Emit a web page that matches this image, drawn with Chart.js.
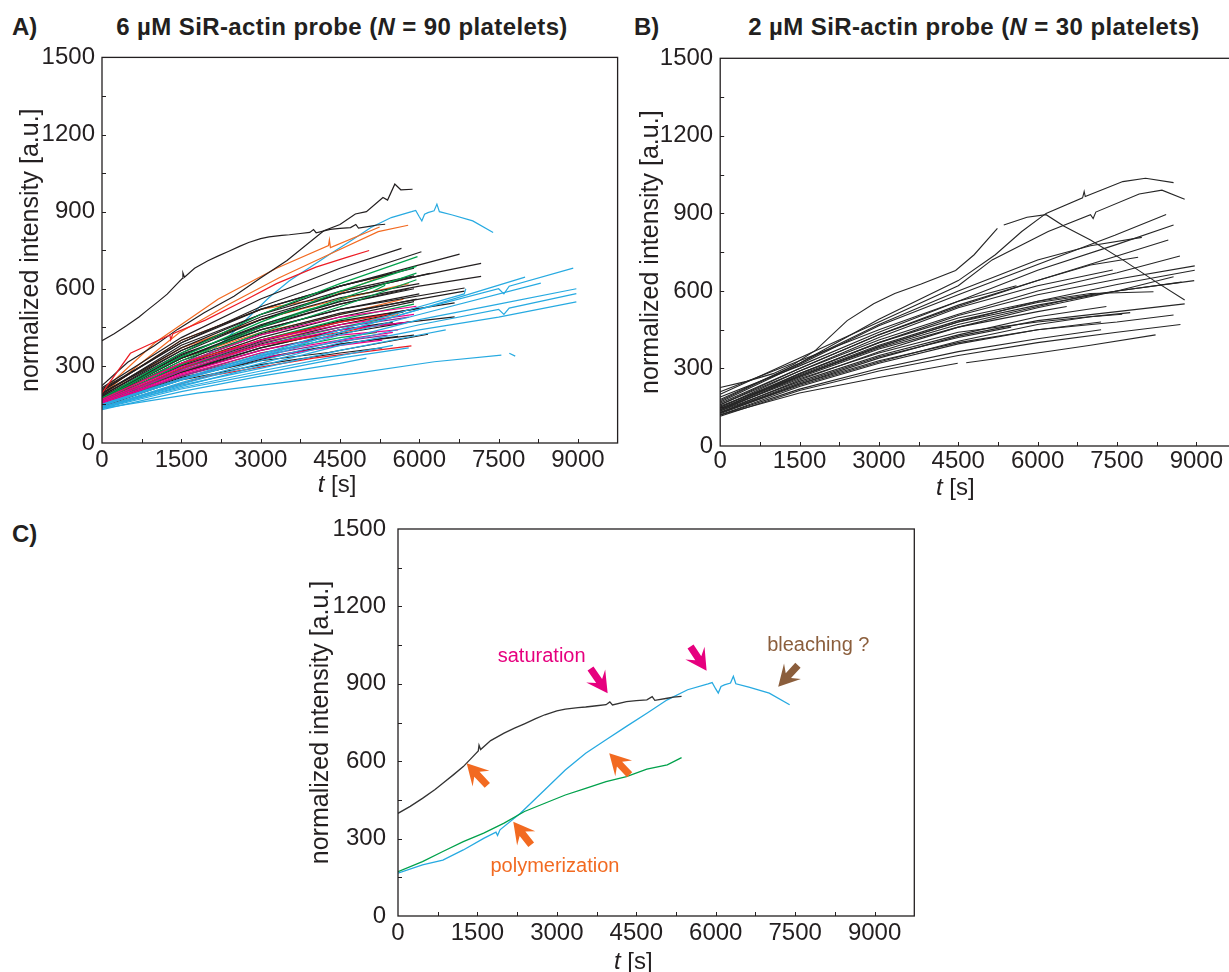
<!DOCTYPE html>
<html>
<head>
<meta charset="utf-8">
<script src="https://cdn.jsdelivr.net/npm/chart.js@4.4.1/dist/chart.umd.min.js"></script>
<style>
  html, body { margin: 0; padding: 0; background: #fff; overflow: hidden; width: 1229px; height: 972px; }
  body { position: relative; font-family: "Liberation Sans", Arial, sans-serif; color: #231f20; }
  .panel { position: absolute; }
  .lbl { position: absolute; font-weight: bold; font-size: 24px; line-height: 24px; white-space: nowrap; }
  .ttl { position: absolute; font-weight: bold; font-size: 24px; line-height: 24px; white-space: nowrap; letter-spacing: 0.4px; transform: translateX(-50%); }
</style>
</head>
<body>
<div class="lbl" style="left:12px;top:15px">A)</div>
<div class="ttl" style="left:342px;top:15px">6 µM SiR-actin probe (<i>N</i> = 90 platelets)</div>
<div class="lbl" style="left:634px;top:15px">B)</div>
<div class="ttl" style="left:974px;top:15px">2 µM SiR-actin probe (<i>N</i> = 30 platelets)</div>
<div class="lbl" style="left:12px;top:522px">C)</div>

<div class="panel" style="left:0px;top:36px;width:640px;height:470px"><canvas id="chartA" width="640" height="470"></canvas></div>
<div class="panel" style="left:620px;top:36px;width:640px;height:470px"><canvas id="chartB" width="640" height="470"></canvas></div>
<div class="panel" style="left:290px;top:500px;width:640px;height:472px"><canvas id="chartC" width="640" height="472"></canvas></div>

<script>
// 軸の目盛り
const xTicks = [0, 1500, 3000, 4500, 6000, 7500, 9000];
const yTicks = [0, 300, 600, 900, 1200, 1500];

// C) の3本 (A にも含まれる)
const cBlack = [[0,398],[230,425],[462,456],[700,490],[847,515],[1050,548],[1233,579],[1400,615],[1516,640],[1530,662],[1560,645],[1750,680],[2003,709],[2200,728],[2388,745],[2600,765],[2773,780],[3000,795],[3159,802],[3400,808],[3544,810],[3750,815],[3929,819],[4000,830],[4050,818],[4314,831],[4500,835],[4700,838],[4800,850],[4850,836],[5085,844],[5200,848],[5355,851]];
const cBlue = [[0,166],[462,198],[847,217],[1233,256],[1618,301],[1850,325],[1880,312],[1926,334],[2311,398],[2773,489],[3159,566],[3544,631],[3929,683],[4314,735],[4700,786],[5085,838],[5470,877],[5855,900],[5932,905],[6000,880],[6048,864],[6100,890],[6163,896],[6279,903],[6333,929],[6380,900],[6626,887],[7011,864],[7396,819]];
const cGreen = [[0,172],[462,211],[847,250],[1233,288],[1618,321],[2003,360],[2388,405],[2773,437],[3159,469],[3544,495],[3929,521],[4314,540],[4700,569],[5085,586],[5355,614]];

// A) 6 µM
const aBlack = [
  [[0,223],[487,314],[990,378],[1428,442],[1931,507],[2496,571],[2998,642],[3499,710],[4194,826],[4500,850],[4791,891],[5000,900],[5313,955],[5400,945],[5537,1007],[5650,985],[5873,987]],
  [[0,215],[1500,410],[3000,560],[4500,680],[5663,757]],
  [[0,205],[1500,390],[3000,530],[4500,640],[6040,744]],
  [[0,195],[1500,370],[3000,500],[4500,610],[6762,735]],
  [[0,185],[1500,350],[3000,480],[4500,580],[6000,650],[7169,699]],
  [[0,180],[1500,340],[3000,460],[4500,550],[6000,610],[7169,648]],
  [[0,175],[1500,330],[3000,440],[4500,520],[6856,603]],
  [[0,170],[1500,320],[3000,425],[4500,505],[6856,591]],
  [[0,165],[1500,300],[3000,400],[4500,475],[6668,545]],
  [[0,160],[1500,280],[3000,370],[4500,440],[6668,491]],
  [[0,150],[1500,255],[3000,320],[4283,352],[6165,423]],
  [[0,200],[1500,400],[3000,520],[4500,610],[5900,680]],
  [[0,190],[1500,380],[3000,500],[4500,590],[5900,650]],
  [[0,185],[1500,360],[3000,480],[4500,565],[6000,620]],
  [[0,175],[1500,345],[3000,455],[4500,540],[5800,600]],
  [[0,170],[1500,330],[3000,440],[4500,520],[6000,580]],
  [[0,160],[1500,305],[3000,410],[4500,490],[5900,550]],
  [[0,155],[1500,290],[3000,385],[4500,460],[5700,510]],
  [[0,150],[1500,275],[3000,360],[4500,425],[5800,470]],
  [[0,140],[1500,250],[3000,325],[4500,385],[5900,420]],
  [[0,145],[1500,245],[3000,305],[4500,350],[5300,370]],
  [[0,180],[1500,330],[3000,450],[4500,540],[5900,600]],
  [[0,170],[1500,310],[3000,420],[4500,500],[5950,560]],
  [[0,158],[1500,290],[3000,395],[4500,470],[6000,525]],
  [[0,150],[1500,275],[3000,370],[4500,440],[5500,470]],
  [[0,210],[1500,390],[3000,520],[4500,610],[5500,660]],
  [[0,145],[1500,250],[3000,330],[4500,385],[5600,415]],
  [[0,195],[1500,360],[3000,490],[4500,580],[6200,660]]
];
const aOrange = [
  [[0,190],[1460,429],[2400,540],[3342,642],[4283,732],[5223,822],[5789,847]],
  [[0,200],[1000,390],[2200,560],[3300,680],[4283,768],[4300,790],[4320,760],[5250,840]],
  [[0,200],[1500,400],[3000,520],[4283,566],[5223,643],[5500,660]],
  [[0,190],[1500,370],[3000,480],[4500,560],[5800,620]],
  [[0,175],[1500,330],[3000,430],[4500,500],[5700,560]],
  [[0,165],[1500,300],[3000,390],[4500,460],[5600,500]]
];
const aRed = [
  [[0,194],[537,349],[1284,420],[1300,402],[1340,425],[1955,478],[2702,555],[3299,620],[4045,684],[4642,723],[5052,749]],
  [[0,140],[2000,260],[4000,330],[5851,378]],
  [[0,170],[1500,310],[3000,400],[4500,470],[5400,500]],
  [[0,160],[1500,290],[3000,380],[4500,430],[5000,450]]
];
const aGreen = [
  [[0,175],[1500,350],[3000,500],[4500,620],[5966,725]],
  [[0,170],[1500,335],[3000,470],[4500,590],[5946,687]],
  [[0,165],[1500,320],[3000,450],[4500,560],[5946,661]],
  [[0,160],[1500,305],[3000,430],[4500,530],[5946,635]],
  [[0,150],[1500,280],[3000,380],[4500,450],[5500,490]],
  [[0,145],[1500,260],[3000,350],[4500,410],[5200,430]],
  [[0,155],[1500,290],[3000,400],[4500,480],[5900,540]]
];
const aMagenta = [
  [[0,170],[1500,310],[3000,420],[4500,490],[5946,532]],
  [[0,165],[1500,295],[3000,400],[4500,460],[5900,500]],
  [[0,160],[1500,280],[3000,380],[4500,440],[5800,470]],
  [[0,150],[1500,265],[3000,350],[4500,400],[5500,430]],
  [[0,155],[1500,270],[3000,360],[4500,420],[5600,440]],
  [[0,145],[1500,250],[3000,330],[4500,380],[5300,400]]
];
const aPurple = [
  [[0,160],[1500,285],[3000,390],[4500,450],[5800,490]],
  [[0,150],[1500,260],[3000,340],[4500,395],[5400,420]]
];
const aBlue = [
  [[0,135],[1806,194],[3299,232],[4791,271],[6284,316],[7552,342]],
  [[7702,349],[7814,338]],
  [[0,135],[1500,220],[3000,300],[4500,380],[6000,440],[7500,490],[8970,549]],
  [[0,140],[1500,230],[3000,310],[4500,390],[6000,460],[7500,520],[7600,500],[7700,525],[8970,581]],
  [[0,140],[1500,235],[3000,320],[4500,400],[6000,480],[7500,540],[8970,600]],
  [[0,145],[1500,245],[3000,335],[4500,430],[6000,520],[7500,600],[7600,580],[7700,610],[8911,680]],
  [[0,150],[1500,250],[3000,340],[4500,430],[6000,520],[8000,645]],
  [[0,145],[1500,245],[3000,330],[4500,420],[6000,500],[8298,622]],
  [[0,150],[1500,250],[3000,345],[4500,440],[6000,530],[6850,580],[6880,600]],
  [[0,140],[1500,215],[3000,280],[4500,340],[5500,380]],
  [[0,135],[1500,210],[3000,270],[4500,330],[5800,370]],
  [[0,130],[1500,200],[3000,260],[4500,310],[5000,330]],
  [[0,138],[1500,225],[3000,290],[4500,360],[6000,420],[6500,440]]
];

// B) 2 µM
const bTraces = [
  [[0,226],[500,250],[1000,280],[1400,317],[1800,370],[2400,485],[2900,550],[3300,590],[3800,627],[4450,679],[4800,740],[5240,842]],
  [[5360,855],[5800,885],[6160,895],[6500,850],[7000,797],[7610,720],[8230,636],[8780,565]],
  [[0,175],[1500,320],[3000,490],[4500,640],[5200,740],[5700,830],[6160,900],[6850,960],[6880,985],[6900,965],[7610,1023],[8040,1036],[8570,1019]],
  [[0,200],[1500,340],[3000,480],[4500,620],[5140,720],[6200,830],[7000,895],[7050,880],[7100,905],[7920,975],[8350,990],[8780,955]],
  [[0,170],[1500,315],[3000,465],[4500,585],[6200,718],[7460,815],[8430,896]],
  [[0,190],[1500,310],[3000,440],[4500,560],[6000,680],[7500,780],[8570,855]],
  [[0,160],[1500,300],[3000,430],[4500,540],[6000,640],[7500,735],[8470,797]],
  [[0,150],[1500,290],[3000,410],[4500,510],[6000,600],[7500,670],[8690,735]],
  [[0,140],[1500,280],[3000,400],[4500,505],[6000,585],[7500,645],[8970,697]],
  [[0,135],[1500,270],[3000,385],[4500,480],[6000,560],[7500,625],[8970,680]],
  [[0,145],[1500,275],[3000,390],[4500,485],[6000,555],[7500,600],[8720,634]],
  [[0,130],[1500,255],[3000,365],[4500,460],[6000,535],[7500,600],[8570,655]],
  [[0,125],[1500,240],[3000,340],[4500,425],[6000,485],[7500,520],[8780,550]],
  [[0,120],[1500,230],[3000,320],[4500,395],[6000,450],[7500,480],[8570,507]],
  [[0,120],[1500,205],[3000,265],[4490,320]],
  [[4650,322],[6000,360],[7000,390],[8230,430]],
  [[0,180],[1500,320],[3000,470],[4500,600],[6000,720],[7000,775],[7970,807]],
  [[0,160],[1500,290],[3000,420],[4500,535],[6000,620],[7420,681]],
  [[0,150],[1500,280],[3000,400],[4500,495],[6000,560],[7000,590],[8190,597]],
  [[0,140],[1500,260],[3000,360],[4500,440],[6000,480],[7750,516]],
  [[0,130],[1500,240],[3000,330],[4500,400],[6000,450],[7200,480]],
  [[0,135],[1500,250],[3000,350],[4500,430],[6000,500],[7300,540]],
  [[0,155],[1500,270],[3000,380],[4500,470],[6000,540],[7100,590]],
  [[0,120],[1500,220],[3000,300],[4500,365],[6000,415],[7200,450]],
  [[0,128],[1500,235],[3000,325],[4500,405],[6000,470],[7000,500],[7600,510]],
  [[0,140],[1500,265],[3000,375],[4500,460],[6000,520],[6550,540]],
  [[0,130],[1500,245],[3000,345],[4500,420],[5500,460]],
  [[0,165],[1500,300],[3000,430],[4500,545],[6000,640],[7000,700],[7900,730]],
  [[0,115],[1500,215],[3000,290],[4500,350],[6000,400],[7500,440],[8700,470]],
  [[0,210],[1500,330],[3000,450],[4500,560],[5600,620]],
  [[0,145],[1500,270],[3000,385],[4500,480],[6000,545],[7500,600],[8960,640]]
];

// C) 注記 (矢印の先端と根元, 文字)
const cArrows = [
  { tip: [1297,592], tail: [1661,512], kind: 'poly' },
  { tip: [3989,631], tail: [4348,553], kind: 'poly' },
  { tip: [2177,365], tail: [2492,282], kind: 'poly' },
  { tip: [3959,863], tail: [3657,953], kind: 'sat' },
  { tip: [5828,951], tail: [5545,1038], kind: 'sat' },
  { tip: [7180,889], tail: [7527,966], kind: 'bleach' }
];
const cLabels = [
  { text: 'saturation', at: [2713,1005], kind: 'sat' },
  { text: 'polymerization', at: [2964,191], kind: 'poly' },
  { text: 'bleaching ?', at: [7937,1050], kind: 'bleach' }
];

const INK = '#231f20';
const FONT = '"Liberation Sans", Arial, Helvetica, sans-serif';
const COL = {
  black: '#231f20', blue: '#27aae1', orange: '#f26a21', red: '#ed1c24',
  green: '#00a14b', magenta: '#ec008c', purple: '#92278f',
  poly: '#f26a21', sat: '#e6007e', bleach: '#8b5e3c'
};

function traces(list, color, width) {
  return list.map(d => ({
    data: d, borderColor: color, borderWidth: width,
    pointRadius: 0, showLine: true, fill: false, tension: 0
  }));
}

// 枠と内向きの目盛り
const framePlugin = {
  id: 'frame',
  afterDatasetsDraw(chart) {
    const { ctx, chartArea: a, scales: { x, y } } = chart;
    ctx.save();
    ctx.strokeStyle = INK;
    ctx.lineWidth = 1.3;
    ctx.strokeRect(a.left, a.top, a.right - a.left, a.bottom - a.top);
    ctx.lineWidth = 1;
    ctx.beginPath();
    for (let v = 750; v < 9750; v += 750) {
      const px = Math.round(x.getPixelForValue(v)) + 0.5;
      ctx.moveTo(px, a.bottom);
      ctx.lineTo(px, a.bottom - 4);
    }
    for (let v = 150; v < 1500; v += 150) {
      const py = Math.round(y.getPixelForValue(v)) + 0.5;
      ctx.moveTo(a.left, py);
      ctx.lineTo(a.left + 4, py);
    }
    ctx.stroke();
    ctx.restore();
  }
};

// x 軸タイトル (t は斜体)
const xTitlePlugin = {
  id: 'xTitle',
  afterDraw(chart, args, opts) {
    const { ctx, chartArea: a, scales: { x } } = chart;
    const cx = x.getPixelForValue(4500) - 3;
    const cy = a.bottom + opts.offset;
    ctx.save();
    ctx.fillStyle = INK;
    ctx.textBaseline = 'middle';
    ctx.font = 'italic 24px ' + FONT;
    const w1 = ctx.measureText('t').width;
    ctx.font = '24px ' + FONT;
    const w2 = ctx.measureText(' [s]').width;
    const left = cx - (w1 + w2) / 2;
    ctx.font = 'italic 24px ' + FONT;
    ctx.textAlign = 'left';
    ctx.fillText('t', left, cy);
    ctx.font = '24px ' + FONT;
    ctx.fillText(' [s]', left + w1, cy);
    ctx.restore();
  }
};

// C) の矢印と文字
function drawArrow(ctx, tx, ty, sx, sy, color) {
  const ang = Math.atan2(ty - sy, tx - sx);
  const len = Math.hypot(tx - sx, ty - sy) + 2;
  ctx.save();
  ctx.translate(tx, ty);
  ctx.rotate(ang);
  ctx.fillStyle = color;
  ctx.beginPath();
  ctx.moveTo(0, 0);
  ctx.lineTo(-21, -11.5);
  ctx.lineTo(-15, -3.6);
  ctx.lineTo(-len, -3.6);
  ctx.lineTo(-len, 3.6);
  ctx.lineTo(-15, 3.6);
  ctx.lineTo(-21, 11.5);
  ctx.closePath();
  ctx.fill();
  ctx.restore();
}

const notesPlugin = {
  id: 'notes',
  afterDraw(chart) {
    const { ctx, scales: { x, y } } = chart;
    cArrows.forEach(a => {
      drawArrow(ctx, x.getPixelForValue(a.tip[0]), y.getPixelForValue(a.tip[1]),
        x.getPixelForValue(a.tail[0]), y.getPixelForValue(a.tail[1]), COL[a.kind]);
    });
    ctx.save();
    ctx.font = '20px ' + FONT;
    ctx.textAlign = 'center';
    ctx.textBaseline = 'middle';
    cLabels.forEach(l => {
      ctx.fillStyle = COL[l.kind];
      ctx.fillText(l.text, x.getPixelForValue(l.at[0]), y.getPixelForValue(l.at[1]));
    });
    ctx.restore();
  }
};

function makeOptions(g) {
  return {
    responsive: false,
    animation: false,
    events: [],
    layout: { padding: { left: 0, top: g.top, right: g.right, bottom: 0 } },
    plugins: {
      legend: { display: false },
      tooltip: { enabled: false },
      xTitle: { offset: g.xTitle }
    },
    scales: {
      x: {
        type: 'linear', min: 0, max: 9750,
        grid: { display: false, drawTicks: false },
        border: { display: false },
        ticks: {
          padding: g.xPad, color: INK, maxRotation: 0, autoSkip: false,
          font: { family: FONT, size: 24 },
          callback: v => String(v)
        },
        afterBuildTicks: s => { s.ticks = xTicks.map(v => ({ value: v })); },
        afterFit: s => { s.height = g.xH; }
      },
      y: {
        type: 'linear', min: 0, max: 1500,
        grid: { display: false, drawTicks: false },
        border: { display: false },
        ticks: {
          padding: g.yPad, color: INK, autoSkip: false,
          font: { family: FONT, size: 24 },
          callback: v => String(v)
        },
        afterBuildTicks: s => { s.ticks = yTicks.map(v => ({ value: v })); },
        afterFit: s => { s.width = g.yW; },
        title: {
          display: true, text: 'normalized intensity [a.u.]', color: INK,
          font: { family: FONT, size: 25 },
          padding: { top: 16.5, bottom: 0 }
        }
      }
    }
  };
}

// A
new Chart(document.getElementById('chartA'), {
  type: 'scatter',
  data: {
    datasets: [
      ...traces(aBlue, COL.blue, 1.2),
      ...traces(aMagenta, COL.magenta, 1.2),
      ...traces(aPurple, COL.purple, 1.2),
      ...traces(aRed, COL.red, 1.2),
      ...traces(aGreen, COL.green, 1.2),
      ...traces(aBlack, COL.black, 1.2),
      ...traces(aOrange, COL.orange, 1.2),
      ...traces([cGreen], COL.green, 1.2),
      ...traces([cBlack], COL.black, 1.2),
      ...traces([cBlue], COL.blue, 1.2)
    ]
  },
  options: makeOptions({ top: 20, right: 22.4, yW: 102, xH: 63, xPad: 3, yPad: 7, xTitle: 42 }),
  plugins: [framePlugin, xTitlePlugin]
});

// B
new Chart(document.getElementById('chartB'), {
  type: 'scatter',
  data: { datasets: traces(bTraces, '#262626', 1.1) },
  options: makeOptions({ top: 22.3, right: 24, yW: 100.2, xH: 60, xPad: 1, yPad: 7, xTitle: 42 }),
  plugins: [framePlugin, xTitlePlugin]
});

// C
new Chart(document.getElementById('chartC'), {
  type: 'scatter',
  data: {
    datasets: [
      ...traces([cGreen], COL.green, 1.3),
      ...traces([cBlack], '#333333', 1.3),
      ...traces([cBlue], COL.blue, 1.3)
    ]
  },
  options: makeOptions({ top: 29, right: 15.7, yW: 108, xH: 56, xPad: 3, yPad: 12, xTitle: 46 }),
  plugins: [framePlugin, xTitlePlugin, notesPlugin]
});
</script>
</body>
</html>
